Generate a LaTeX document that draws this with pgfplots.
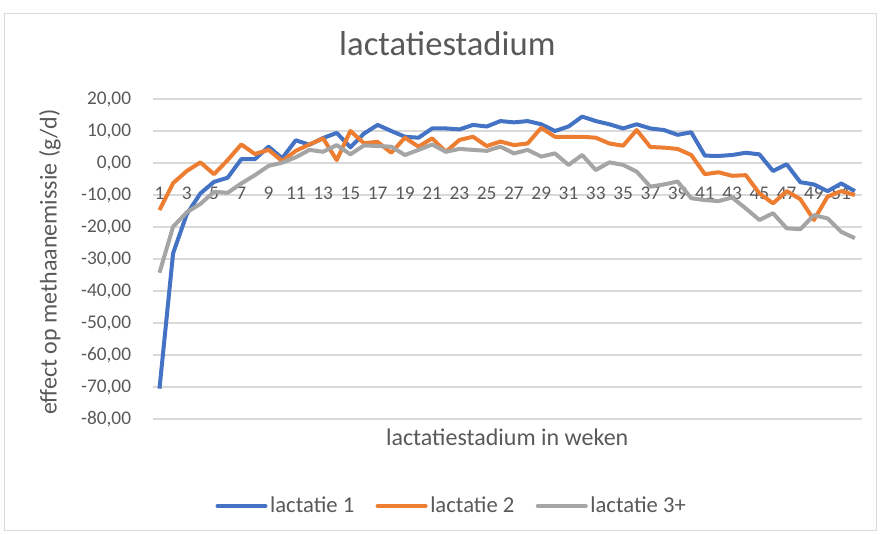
\documentclass[border=0pt]{standalone}
\usepackage{fontspec}
\setmainfont{Carlito}
\usepackage{pgfplots}
\usepackage{pgfplotstable}
\pgfplotsset{compat=1.18}

\definecolor{lac1}{HTML}{4472C4}
\definecolor{lac2}{HTML}{ED7D31}
\definecolor{lac3}{HTML}{A5A5A5}
\definecolor{gridgray}{HTML}{D9D9D9}
\definecolor{txtgray}{HTML}{595959}

% week, lactatie 1, lactatie 2, lactatie 3+
\pgfplotstableread{
k l1 l2 l3
1 -70.5 -14.7 -34.3
2 -28.2 -6.3 -19.9
3 -16.0 -2.5 -15.4
4 -9.5 0.2 -12.8
5 -5.9 -3.5 -9.0
6 -4.6 0.9 -9.3
7 1.2 5.8 -6.4
8 1.2 2.8 -3.8
9 5.1 4.1 -0.9
10 1.5 0.6 0.1
11 7.1 3.8 1.8
12 5.7 5.8 4.1
13 7.8 7.7 3.5
14 9.4 0.9 5.6
15 4.9 10.0 2.7
16 9.2 6.2 5.5
17 11.9 6.6 5.3
18 10.0 3.2 5.1
19 8.2 7.9 2.5
20 7.9 5.1 4.1
21 10.8 7.7 5.8
22 10.8 3.5 3.5
23 10.5 7.2 4.4
24 11.9 8.2 4.1
25 11.4 5.3 3.8
26 13.1 6.7 5.1
27 12.7 5.6 3.0
28 13.1 6.1 4.1
29 12.1 11.0 2.0
30 10.0 8.2 3.0
31 11.4 8.2 -0.6
32 14.5 8.2 2.5
33 13.1 7.9 -2.2
34 12.1 6.1 0.2
35 10.8 5.4 -0.6
36 12.1 10.3 -2.7
37 10.8 5.0 -7.4
38 10.3 4.8 -6.7
39 8.8 4.4 -5.8
40 9.6 2.5 -11.0
41 2.3 -3.5 -11.6
42 2.2 -2.9 -11.9
43 2.5 -4.0 -10.8
44 3.2 -3.8 -14.2
45 2.7 -9.5 -17.8
46 -2.5 -12.6 -15.7
47 -0.4 -8.8 -20.4
48 -6.0 -11.3 -20.7
49 -6.7 -17.8 -16.3
50 -8.8 -10.5 -17.3
51 -6.4 -8.8 -21.5
52 -8.8 -10.0 -23.5
}\lacdata

\begin{document}
\begin{tikzpicture}[x=1pt,y=1pt]
\useasboundingbox (-114.5,-85.5) rectangle (545.5,314.25);
\draw[gridgray, line width=0.75pt] (-110.8,-83.25) rectangle (543.2,303.75);
\begin{axis}[
    scale only axis,
    width=531.75pt, height=240pt,
    xmin=0.5, xmax=52.5,
    ymin=-80, ymax=20,
    xtick={1,3,...,51},
    ytick={-80,-70,...,20},
    axis line style={draw=none},
    tick style={draw=none},
    ymajorgrids,
    major grid style={gridgray, line width=0.9pt},
    /pgf/number format/assume math mode=true,
    xticklabel={\pgfmathprintnumber[int detect]{\tick}},
    yticklabel={\pgfmathprintnumber[fixed, fixed zerofill, precision=2, use comma]{\tick}},
    x tick label style={font=\fontsize{14.5pt}{16pt}\selectfont, text=txtgray,
      anchor=center, inner sep=0pt, yshift=169.5pt},
    y tick label style={font=\fontsize{14.5pt}{16pt}\selectfont, text=txtgray,
      anchor=east, inner sep=0pt, xshift=-16pt},
    title={lactatiestadium},
    title style={at={(0.4157,1.1469)}, anchor=center, text=txtgray,
      font=\fontsize{26pt}{30pt}\selectfont},
    xlabel={lactatiestadium in weken},
    xlabel style={at={(0.5,-0.056)}, anchor=center, text=txtgray,
      font=\fontsize{18pt}{21pt}\selectfont},
    ylabel={effect op methaanemissie (g/d)},
    ylabel style={at={(-0.1448,0.4906)}, anchor=center, rotate=0, text=txtgray,
      font=\fontsize{18pt}{21pt}\selectfont},
    legend style={at={(0.4222,-0.2719)}, anchor=center, draw=none,
      legend columns=3, text=txtgray,
      font=\fontsize{17pt}{20pt}\selectfont,
      /tikz/every even column/.append style={column sep=14pt}},
    legend image code/.code={\draw[#1, line width=3pt, line cap=round] (0pt,0pt) -- (36pt,0pt);},
    every axis plot/.append style={line width=3pt, line join=round, no markers},
]
\addplot[lac1] table[x=k, y=l1] {\lacdata};
\addplot[lac2] table[x=k, y=l2] {\lacdata};
\addplot[lac3] table[x=k, y=l3] {\lacdata};
\legend{lactatie 1, lactatie 2, lactatie 3+}
\end{axis}
\end{tikzpicture}
\end{document}
